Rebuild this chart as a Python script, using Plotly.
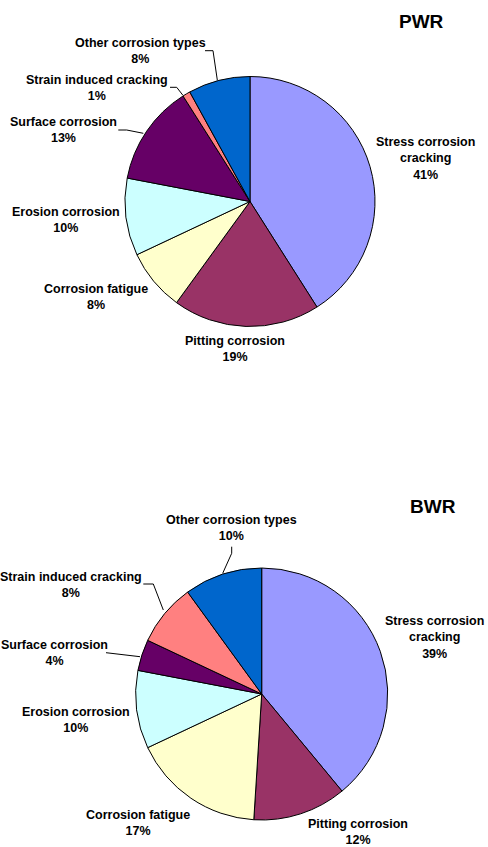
import plotly.graph_objects as go

W, H = 488, 847

categories = ["Stress corrosion cracking", "Pitting corrosion", "Corrosion fatigue",
              "Erosion corrosion", "Surface corrosion", "Strain induced cracking",
              "Other corrosion types"]
pwr_values = [41, 19, 8, 10, 13, 1, 8]
bwr_values = [39, 12, 17, 10, 4, 8, 10]
colors = ["#9999FF", "#993366", "#FFFFCC", "#CCFFFF", "#660066", "#FF8080", "#0066CC"]


def px(x):
    return x / W


def py(y):
    return 1 - y / H


def dom(cx, cy, r):
    return dict(x=[px(cx - r), px(cx + r)], y=[py(cy + r), py(cy - r)])


fig = go.Figure()
for vals, d in [(pwr_values, dom(250, 201.5, 125)), (bwr_values, dom(261.7, 694, 126))]:
    fig.add_trace(go.Pie(
        labels=categories, values=vals, sort=False, direction="clockwise", rotation=0,
        marker=dict(colors=colors, line=dict(color="black", width=1)),
        textinfo="none", hoverinfo="label+percent", domain=d, showlegend=False,
    ))

# label text built from the data; positions are layout (pixel) coordinates
def label_text(name, v):
    if name == "Stress corrosion cracking":
        name = "Stress corrosion<br>cracking"
    return f"<b>{name}<br>{v}%</b>"

pwr_pos = [(425, 158.7), (235, 348.7), (95.7, 297), (65.7, 220), (63.3, 130), (97.3, 88), (140, 51)]
bwr_pos = [(434, 637.5), (358.3, 831.5), (137.7, 823.3), (76, 720.3), (54, 653), (71, 584.7), (231.7, 528)]

FONT = "Liberation Sans, Arial"
annotations = []
for vals, pos in [(pwr_values, pwr_pos), (bwr_values, bwr_pos)]:
    for name, v, (x, y) in zip(categories, vals, pos):
        annotations.append(dict(
            x=px(x), y=py(y), xref="paper", yref="paper", text=label_text(name, v),
            showarrow=False, xanchor="center", yanchor="middle", align="center",
            font=dict(family=FONT, size=12.5, color="black"),
        ))

for title, (x, y) in [("PWR", (421.7, 21.7)), ("BWR", (433.3, 506.7))]:
    annotations.append(dict(x=px(x), y=py(y), xref="paper", yref="paper", text=f"<b>{title}</b>",
                            showarrow=False, xanchor="center", yanchor="middle",
                            font=dict(family=FONT, size=19, color="black")))

leaders = [
    [(205, 50.7), (213, 50.7), (217.3, 80)],
    [(170, 87.3), (176.7, 87.3), (182.7, 95)],
    [(118.3, 130), (126.7, 130), (143.3, 133.3)],
    [(231.7, 546.7), (231.7, 553.3), (222.7, 573.3)],
    [(143.3, 584), (153.3, 584), (163.3, 610)],
    [(106, 652.7), (140, 656.7)],
]
shapes = []
for pts in leaders:
    path = "M " + " L ".join(f"{px(x)},{py(y)}" for x, y in pts)
    shapes.append(dict(type="path", path=path, xref="paper", yref="paper",
                       line=dict(color="black", width=1)))

fig.update_layout(
    width=W, height=H, margin=dict(l=0, r=0, t=0, b=0),
    paper_bgcolor="white", plot_bgcolor="white",
    annotations=annotations, shapes=shapes,
)

fig.write_html("out.html", config={"displayModeBar": False},
               post_script="document.body.style.margin='0px';document.body.style.overflow='hidden';")
